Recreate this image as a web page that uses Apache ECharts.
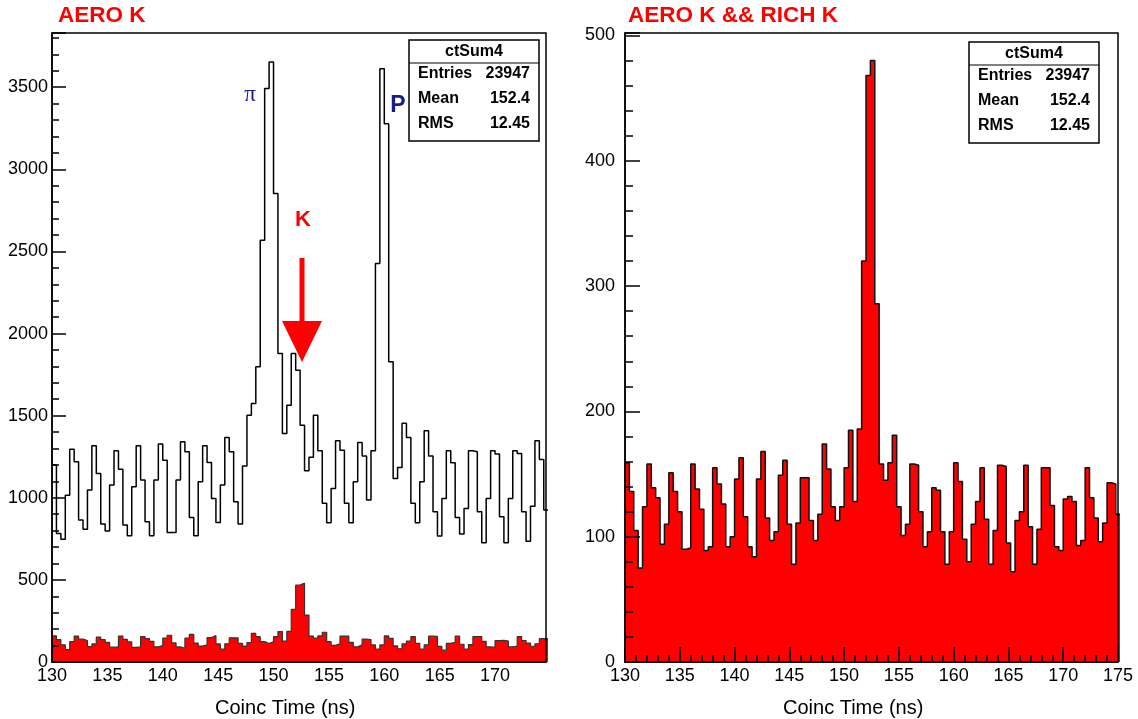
<!DOCTYPE html>
<html>
<head>
<meta charset="utf-8">
<title>ctSum4</title>
<script src="https://cdn.jsdelivr.net/npm/echarts@6/dist/echarts.min.js"></script>
<style>
html, body { margin: 0; padding: 0; background: #fff; }
#chart { width: 1138px; height: 719px; }
</style>
</head>
<body>
<div id="chart"></div>
<script>
// bins of the coinc time histogram (ns)
var binStart = 130;
var binWidth = 0.4;

// AERO K (black outline), one count per bin
var aeroK = [
    1199, 783, 747, 1016, 1296, 1219, 864, 809, 1047, 1317,
    1148, 840, 797, 1077, 1286, 1173, 834, 769, 1067, 1317,
    1108, 854, 769, 1108, 1327, 1229, 789, 789, 1108, 1341,
    1280, 880, 769, 1098, 1317, 1215, 996, 850, 1077, 1367,
    1280, 976, 840, 1193, 1503, 1574, 1798, 2568, 3492, 3654,
    2853, 1879, 1392, 1564, 1879, 1777, 1442, 1165, 1246, 1503,
    1286, 966, 848, 1057, 1347, 1290, 966, 848, 1098, 1337,
    1254, 986, 1286, 2426, 3613, 3278, 1828, 1118, 1185, 1453,
    1367, 966, 848, 1098, 1408, 1254, 915, 767, 996, 1286,
    1213, 880, 779, 935, 1286, 1280, 915, 726, 996, 1286,
    1266, 885, 726, 996, 1286, 1270, 915, 736, 949, 1347,
    1233, 925
];

// AERO K && RICH K (red fill), one count per bin
var aeroRichK = [
    159, 136, 105, 75, 124, 158, 139, 131, 94, 110,
    151, 136, 120, 90, 91, 158, 138, 122, 89, 92,
    155, 142, 126, 92, 100, 146, 163, 116, 92, 84,
    146, 168, 115, 97, 104, 149, 161, 110, 78, 111,
    147, 147, 113, 97, 118, 174, 154, 124, 113, 124,
    155, 185, 128, 186, 320, 468, 480, 286, 158, 145,
    159, 181, 124, 101, 110, 158, 157, 120, 92, 104,
    139, 137, 104, 78, 104, 159, 144, 98, 80, 110,
    128, 155, 114, 78, 105, 157, 156, 95, 72, 113,
    120, 157, 108, 78, 106, 155, 155, 125, 92, 89,
    130, 132, 128, 93, 97, 155, 131, 115, 96, 111,
    143, 142, 118
];

var leftTitle = 'AERO K';
var rightTitle = 'AERO K && RICH K';
var axisTitle = 'Coinc Time (ns)';
var statName = 'ctSum4';
var statLabels = ['Entries', 'Mean', 'RMS'];
var statValues = ['23947', '152.4', '12.45'];

var FONT = "'Liberation Sans', Arial, Helvetica, sans-serif";
var RED = '#ff0000';
var NAVY = '#1a1a8c';

// plot frames
var gl = {left: 52, top: 33, width: 494, height: 629};
var gr = {left: 625, top: 33, width: 493, height: 629};

function stepData(vals) {
    var d = [];
    for (var i = 0; i < vals.length; i++) {
        d.push([binStart + i * binWidth, vals[i]]);
    }
    d.push([binStart + vals.length * binWidth, vals[vals.length - 1]]);
    return d;
}

function statBox(x, y) {
    var els = [];
    els.push({type: 'rect', z: 20, shape: {x: x, y: y, width: 130, height: 101},
        style: {fill: '#fff', stroke: '#000', lineWidth: 1.5}});
    els.push({type: 'line', z: 21, shape: {x1: x, y1: y + 23, x2: x + 130, y2: y + 23},
        style: {stroke: '#000', lineWidth: 1.2}});
    els.push({type: 'text', z: 22, x: x + 65, y: y + 12, style: {text: statName,
        font: 'bold 16px ' + FONT, fill: '#000', align: 'center', verticalAlign: 'middle'}});
    for (var i = 0; i < statLabels.length; i++) {
        els.push({type: 'text', z: 22, x: x + 9, y: y + 34 + i * 25, style: {text: statLabels[i],
            font: 'bold 16px ' + FONT, fill: '#000', align: 'left', verticalAlign: 'middle'}});
        els.push({type: 'text', z: 22, x: x + 121, y: y + 34 + i * 25, style: {text: statValues[i],
            font: 'bold 16px ' + FONT, fill: '#000', align: 'right', verticalAlign: 'middle'}});
    }
    return els;
}

function frame(g) {
    return {type: 'rect', z: 15, shape: {x: g.left, y: g.top, width: g.width, height: g.height},
        style: {fill: 'none', stroke: '#000', lineWidth: 1.5}};
}

var chart = echarts.init(document.getElementById('chart'), null, {renderer: 'canvas'});

// plain numbers, no thousands separator
var labelStyle = {color: '#000', fontSize: 18, fontFamily: FONT,
    formatter: function (v) { return String(v); }};

var graphics = [
    frame(gl), frame(gr),
    {type: 'text', z: 20, x: 58, y: 16, style: {text: leftTitle, font: 'bold 22.5px ' + FONT,
        fill: RED, align: 'left', verticalAlign: 'middle'}},
    {type: 'text', z: 20, x: 628, y: 16, style: {text: rightTitle, font: 'bold 22.5px ' + FONT,
        fill: RED, align: 'left', verticalAlign: 'middle'}},
    {type: 'text', z: 20, x: 215, y: 708, style: {text: axisTitle, font: '20px ' + FONT,
        fill: '#000', align: 'left', verticalAlign: 'middle'}},
    {type: 'text', z: 20, x: 783, y: 708, style: {text: axisTitle, font: '20px ' + FONT,
        fill: '#000', align: 'left', verticalAlign: 'middle'}},
    // particle labels on the left plot
    {type: 'text', z: 20, x: 250, y: 95, style: {text: 'π', font: "23px 'Liberation Serif', 'DejaVu Serif', serif",
        fill: NAVY, align: 'center', verticalAlign: 'middle'}},
    {type: 'text', z: 20, x: 398, y: 106, style: {text: 'P', font: 'bold 23px ' + FONT,
        fill: NAVY, align: 'center', verticalAlign: 'middle'}},
    {type: 'text', z: 20, x: 303, y: 220, style: {text: 'K', font: 'bold 22px ' + FONT,
        fill: RED, align: 'center', verticalAlign: 'middle'}},
    {type: 'line', z: 20, shape: {x1: 302, y1: 258, x2: 302, y2: 323},
        style: {stroke: RED, lineWidth: 5}},
    {type: 'polygon', z: 20, shape: {points: [[282, 321], [322, 321], [302, 362]]},
        style: {fill: RED}}
].concat(statBox(409, 40)).concat(statBox(969, 42));

chart.setOption({
    backgroundColor: '#fff',
    animation: false,
    grid: [
        {left: gl.left, top: gl.top, width: gl.width, height: gl.height, containLabel: false},
        {left: gr.left, top: gr.top, width: gr.width, height: gr.height, containLabel: false}
    ],
    xAxis: [
        {
            gridIndex: 0, type: 'value', min: 130, max: 174.6, interval: 5, z: 4,
            axisLine: {show: true, lineStyle: {color: '#000', width: 1.5}},
            axisTick: {show: false},
            splitLine: {show: false},
            axisLabel: Object.assign({margin: 5, showMaxLabel: false, showMinLabel: true}, labelStyle)
        },
        {
            gridIndex: 1, type: 'value', min: 130, max: 175, interval: 5, z: 4,
            axisLine: {show: true, lineStyle: {color: '#000', width: 1.5}},
            axisTick: {show: true, inside: true, length: 15, lineStyle: {color: '#000', width: 1.5}},
            minorTick: {show: true, splitNumber: 5, length: 7, lineStyle: {color: '#000', width: 1.5}},
            splitLine: {show: false},
            axisLabel: Object.assign({margin: 5, showMaxLabel: true, showMinLabel: true}, labelStyle)
        }
    ],
    yAxis: [
        {
            gridIndex: 0, type: 'value', min: 0, max: 3830, interval: 500, z: 4,
            axisLine: {show: true, lineStyle: {color: '#000', width: 1.5}},
            axisTick: {show: true, inside: true, length: 14, lineStyle: {color: '#000', width: 1.5}},
            minorTick: {show: true, splitNumber: 5, length: 7, lineStyle: {color: '#000', width: 1.5}},
            splitLine: {show: false},
            axisLabel: Object.assign({margin: 4, showMaxLabel: false}, labelStyle)
        },
        {
            gridIndex: 1, type: 'value', min: 0, max: 502, interval: 100, z: 4,
            axisLine: {show: true, lineStyle: {color: '#000', width: 1.5}},
            axisTick: {show: true, inside: true, length: 15, lineStyle: {color: '#000', width: 1.5}},
            minorTick: {show: true, splitNumber: 5, length: 8, lineStyle: {color: '#000', width: 1.5}},
            splitLine: {show: false},
            axisLabel: Object.assign({margin: 10, showMaxLabel: false}, labelStyle)
        }
    ],
    series: [
        {
            name: 'AERO K && RICH K', type: 'line', xAxisIndex: 0, yAxisIndex: 0,
            step: 'end', symbol: 'none', clip: true, z: 2,
            data: stepData(aeroRichK),
            lineStyle: {color: '#333', width: 1.2},
            areaStyle: {color: RED, opacity: 1}
        },
        {
            name: 'AERO K', type: 'line', xAxisIndex: 0, yAxisIndex: 0,
            step: 'end', symbol: 'none', clip: true, z: 3,
            data: stepData(aeroK),
            lineStyle: {color: '#000', width: 1.5}
        },
        {
            name: 'AERO K && RICH K (right)', type: 'line', xAxisIndex: 1, yAxisIndex: 1,
            step: 'end', symbol: 'none', clip: true, z: 2,
            data: stepData(aeroRichK),
            lineStyle: {color: '#111', width: 1.5},
            areaStyle: {color: RED, opacity: 1}
        }
    ],
    graphic: graphics
});
</script>
</body>
</html>
